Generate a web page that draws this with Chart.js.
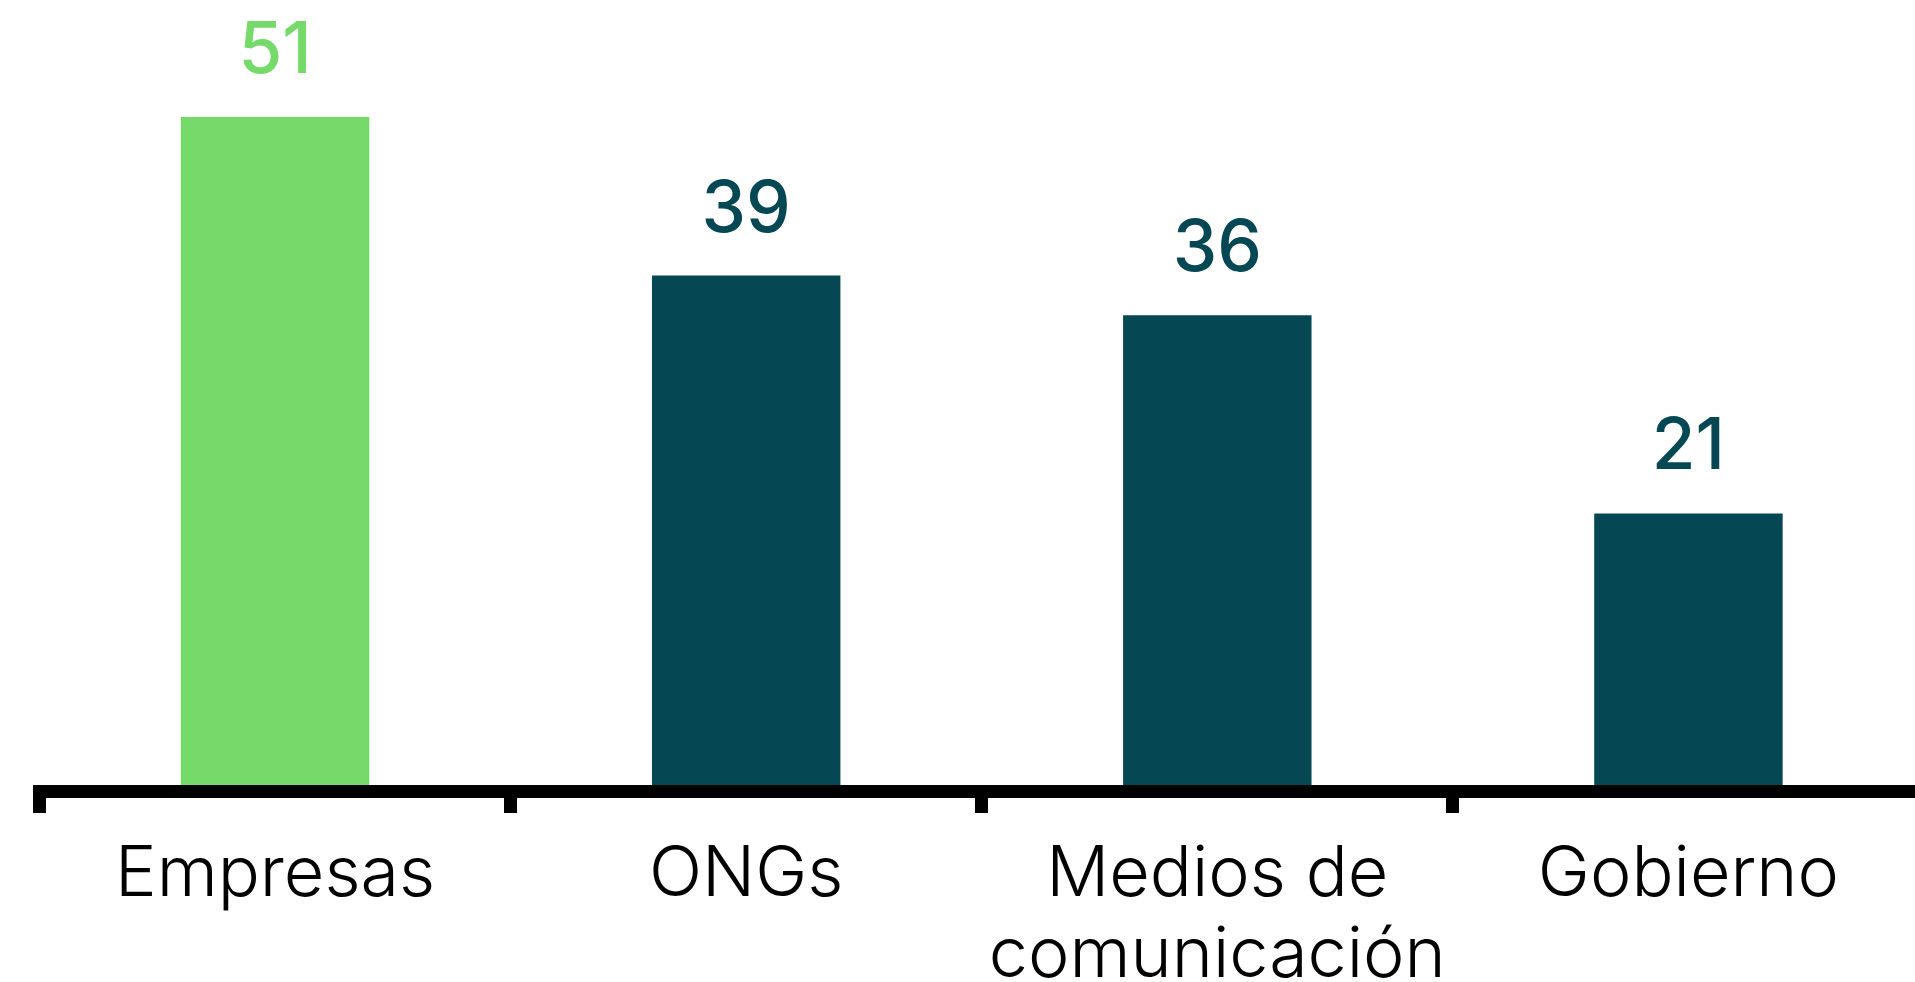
<!DOCTYPE html>
<html>
<head>
<meta charset="utf-8">
<script src="https://cdn.jsdelivr.net/npm/chart.js@4"></script>
<style>
	html, body { margin: 0; padding: 0; background: #fff; overflow: hidden; }
	canvas { display: block; }
</style>
</head>
<body>
<canvas id="sector_chart" width="1925" height="982"></canvas>
<script>
// chart data
const categories = ['Empresas', 'ONGs', ['Medios de', 'comunicación'], 'Gobierno']
const values = [51, 39, 36, 21]
const barColors = ['#75da69', '#054853', '#054853', '#054853']

// draws the number above every bar, in the bar's own colour
const valueLabels = {
	id: 'valueLabels',
	afterDatasetsDraw(chart) {
		const ctx = chart.ctx
		const meta = chart.getDatasetMeta(0)
		ctx.save()
		ctx.font = '500 71px Inter'
		ctx.textAlign = 'center'
		ctx.textBaseline = 'alphabetic'
		meta.data.forEach((bar, i) => {
			ctx.fillStyle = barColors[i]
			ctx.fillText(values[i], bar.x, bar.y - 44)
		})
		ctx.restore()
	},
}

const options = {
	type: 'bar',
	data: {
		labels: categories,
		datasets: [
			{
				data: values,
				backgroundColor: barColors,
				borderWidth: 0,
				categoryPercentage: 1,
				barPercentage: 0.4,
			},
		],
	},
	options: {
		responsive: false,
		animation: false,
		devicePixelRatio: 1,
		layout: { padding: { left: 39.5, right: 1, top: 0, bottom: 0 } },
		plugins: {
			legend: { display: false },
			tooltip: { enabled: false },
		},
		scales: {
			x: {
				// keep the axis line above the bars
				border: { display: true, color: '#000', width: 13, z: 1 },
				grid: {
					display: true,
					drawOnChartArea: false,
					drawTicks: true,
					tickLength: 22,
					tickWidth: 13,
					tickColor: '#000',
					offset: true,
				},
				ticks: {
					color: '#000',
					padding: 21,
					maxRotation: 0,
					autoSkip: false,
					font: { family: 'Inter', size: 70, weight: 300, lineHeight: 1.16 },
				},
				afterFit: scale => {
					scale.height = 191
				},
			},
			y: {
				display: false,
				min: 0,
				max: 59.85,
			},
		},
	},
	plugins: [valueLabels],
}

const ctx = document.getElementById('sector_chart')
const sectorChart = new Chart(ctx, options)
</script>
</body>
</html>
